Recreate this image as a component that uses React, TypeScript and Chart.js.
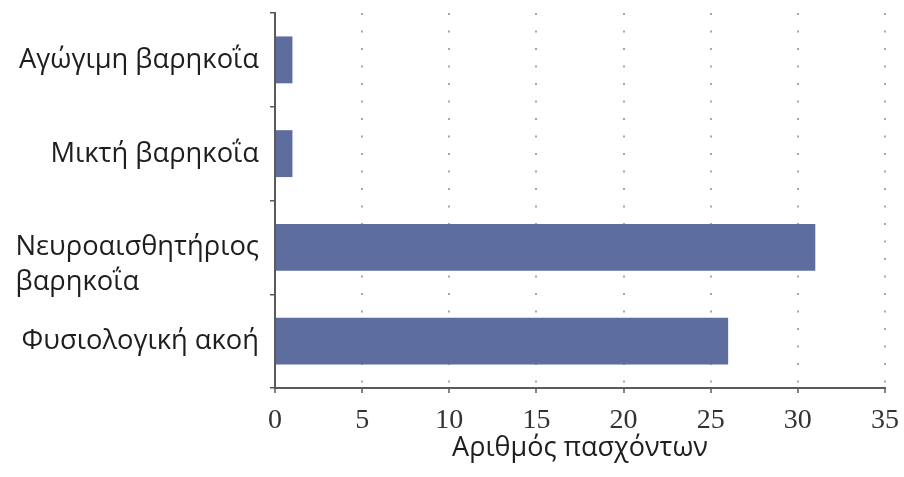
import React, { useEffect, useRef } from "react";
import { Chart, registerables } from "chart.js";

Chart.register(...registerables);

const categories: (string | string[])[] = [
  "Αγώγιμη βαρηκοΐα",
  "Μικτή βαρηκοΐα",
  ["Νευροαισθητήριος", "βαρηκοΐα"],
  "Φυσιολογική ακοή",
];
const patients: number[] = [1, 1, 31, 26];
const xTickValues: number[] = [0, 5, 10, 15, 20, 25, 30, 35];
const xTitle = "Αριθμός πασχόντων";

const BAR_COLOR = "#5d6d9e";
const AXIS_COLOR = "#5a5a5a";
const GRID_COLOR = "#a8a8a8";
const TEXT_COLOR = "#1e1e1e";
const SANS = '"Open Sans", "Noto Sans", sans-serif';
const LABEL_SIZE = 27.3;

const yLabelPlugin = {
  id: "yLabelPlugin",
  afterDraw(chart: any) {
    const ys = chart.scales.y;
    const ctx = chart.ctx;
    ctx.save();
    ctx.font = `${LABEL_SIZE}px ${SANS}`;
    ctx.fillStyle = TEXT_COLOR;
    ctx.textBaseline = "alphabetic";
    ctx.textAlign = "left";
    categories.forEach((lab, i) => {
      const lines = Array.isArray(lab) ? lab : [lab];
      const w = Math.max(...lines.map((l) => ctx.measureText(l).width));
      const x = ys.right - 16 - w;
      const yc = ys.getPixelForValue(i);
      lines.forEach((l, j) => ctx.fillText(l, x, yc + 8 + j * 35));
    });
    ctx.restore();
  },
};

export default function App() {
  const ref = useRef<HTMLCanvasElement | null>(null);
  useEffect(() => {
    if (!ref.current) return;
    const chart = new Chart(ref.current, {
      type: "bar",
      data: {
        labels: categories as any,
        datasets: [
          {
            data: patients,
            backgroundColor: BAR_COLOR,
            borderWidth: 0,
            barPercentage: 0.5,
            categoryPercentage: 1,
          },
        ],
      },
      options: {
        indexAxis: "y",
        responsive: false,
        animation: false,
        layout: { padding: { top: 13, right: 19, left: 0, bottom: 0 } },
        plugins: { legend: { display: false }, tooltip: { enabled: false } },
        scales: {
          x: {
            type: "linear",
            min: 0,
            max: 35,
            afterBuildTicks: (s: any) => {
              s.ticks = xTickValues.map((v) => ({ value: v }));
            },
            afterFit: (s: any) => {
              s.height = 89;
              s.paddingRight = 0;
              s.paddingLeft = 0;
            },
            border: { display: true, color: AXIS_COLOR, width: 2, dash: [2, 15.5] },
            grid: {
              color: (c: any) => (c.index === 0 ? "rgba(0,0,0,0)" : GRID_COLOR),
              lineWidth: 2,
              drawTicks: true,
              tickLength: 5,
              tickColor: AXIS_COLOR,
              tickWidth: 1.5,
              tickBorderDash: [],
            } as any,
            ticks: {
              padding: 11,
              color: "#333333",
              font: { family: '"Liberation Serif", "Times New Roman", serif', size: 28 },
              maxRotation: 0,
            },
            title: {
              display: true,
              text: xTitle,
              color: TEXT_COLOR,
              font: { family: SANS, size: 27 },
              padding: { top: 0, bottom: 12 },
            },
          },
          y: {
            type: "category",
            offset: true,
            afterFit: (s: any) => {
              s.width = 275;
            },
            border: { display: true, color: AXIS_COLOR, width: 2 },
            grid: {
              offset: true,
              drawOnChartArea: false,
              drawTicks: true,
              tickLength: 5,
              color: AXIS_COLOR,
              lineWidth: 1.5,
            },
            ticks: { display: false },
          },
        },
      },
      plugins: [yLabelPlugin],
    });
    return () => chart.destroy();
  }, []);
  return (
    <div style={{ position: "absolute", left: 0, top: 0, width: 904, height: 477, background: "#fff" }}>
      <canvas ref={ref} width={904} height={477} style={{ display: "block" }} />
    </div>
  );
}
